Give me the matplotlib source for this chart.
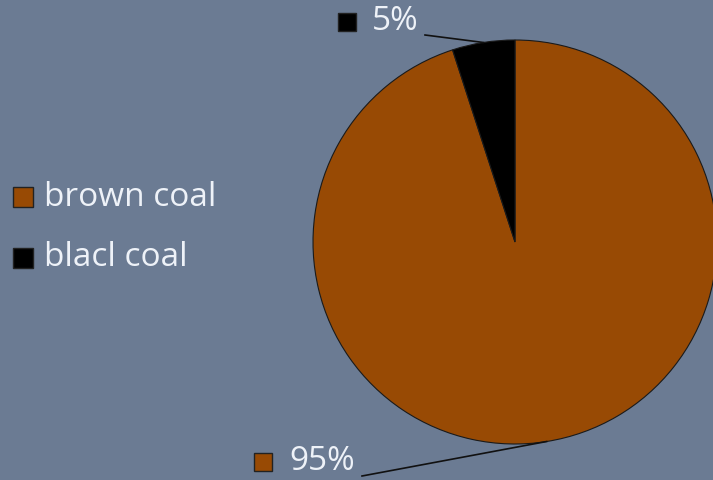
import matplotlib
matplotlib.use("Agg")
import matplotlib.pyplot as plt
import numpy as np

categories = ["brown coal", "blacl coal"]
values = [95, 5]
colors = ["#984A04", "#000000"]
bg = "#6B7B93"
txt = "#EEF2F8"

fig = plt.figure(figsize=(7.13, 4.80), dpi=100, facecolor=bg)
ax = fig.add_axes([0, 0, 1, 1])
ax.set_facecolor(bg)

cx, cy, r = 515, 480 - 242, 202
wedges, _ = ax.pie(values, colors=colors, startangle=90, counterclock=False,
                   radius=r, center=(cx, cy), frame=True,
                   wedgeprops=dict(edgecolor="#1a1a1a", linewidth=0.8))
ax.set_xlim(0, 713)
ax.set_ylim(0, 480)
ax.set_aspect("equal")
ax.axis("off")

# data labels with leader lines
label_pos = [(289, 480 - 462), (372, 480 - 21)]   # text left / center-y
line_end = [(362, 480 - 476), (425, 480 - 35)]
marker_pos = [(263, 480 - 462), (347, 480 - 22)]
for w, v, c, tp, le, mp in zip(wedges, values, colors, label_pos, line_end, marker_pos):
    ang = np.deg2rad((w.theta1 + w.theta2) / 2)
    px, py = cx + r * np.cos(ang), cy + r * np.sin(ang)
    ax.plot([le[0], px], [le[1], py], color="#111111", lw=1.2)
    ax.text(tp[0], tp[1], f"{v}%", color=txt, fontsize=24, ha="left", va="center",
            family="Open Sans")
    ax.add_patch(plt.Rectangle((mp[0] - 9, mp[1] - 9), 18, 18, facecolor=c,
                               edgecolor="#222222", lw=1))

# legend
leg_y = [480 - 197, 480 - 258]
for cat, c, y in zip(categories, colors, leg_y):
    ax.add_patch(plt.Rectangle((13, y - 10), 20, 20, facecolor=c, edgecolor="#222222", lw=1))
    ax.text(44, y, cat, color=txt, fontsize=24, ha="left", va="center", family="Open Sans")

fig.savefig("out.png", dpi=100, facecolor=bg)
